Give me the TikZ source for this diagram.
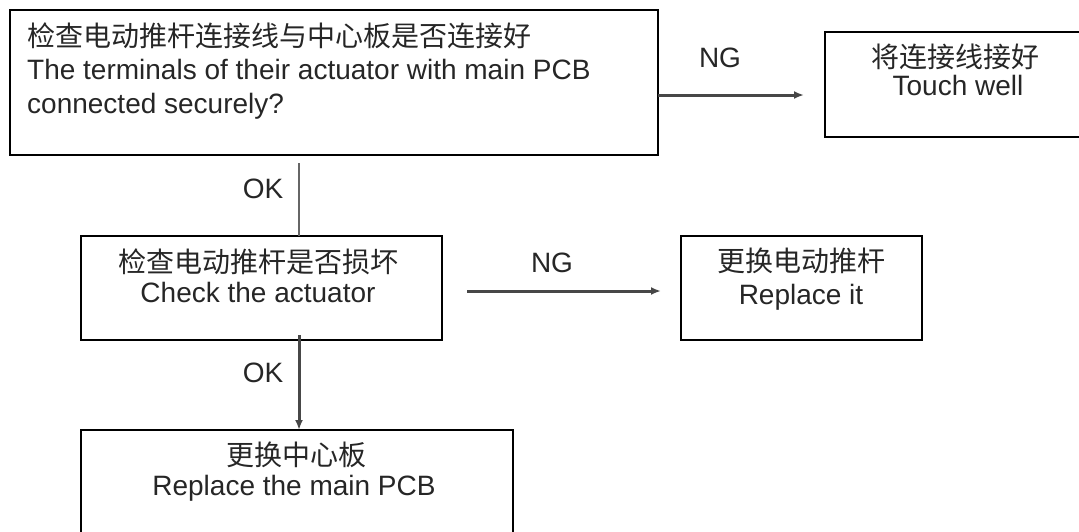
\documentclass[tikz,border=0pt]{standalone}
\usepackage{fontspec}
\setmainfont{Liberation Sans}
\newfontfamily\cjk{Noto Sans CJK SC}
\usetikzlibrary{arrows.meta}
\begin{document}
\begin{tikzpicture}[x=1pt,y=-1pt,
  box/.style={draw=black, line width=2.2pt, rectangle, inner sep=0pt},
  lat/.style={inner sep=0pt, text=black!85, font=\fontsize{28}{32}\selectfont},
  zh/.style={inner sep=0pt, text=black!85, font=\cjk\fontsize{28}{32}\selectfont},
  conn/.style={draw=black!72, line width=3pt, -{Latex[length=10pt,width=8pt]}},
  thinconn/.style={draw=black!60, line width=1.4pt}]
\useasboundingbox (0,0) rectangle (1079,531);

% boxes
\node[box, minimum width=648, minimum height=145] (b1) at (334,82.5) {};
\node[box, minimum width=260, minimum height=105] (b2) at (955,84.5) {};
\node[box, minimum width=361, minimum height=104] (b3) at (261.5,288) {};
\node[box, minimum width=241, minimum height=104] (b4) at (801.5,288) {};
\node[box, minimum width=432, minimum height=110] (b5) at (297,485) {};

% texts
\node[zh, anchor=base west] (t1a) at (27,46) {检查电动推杆连接线与中心板是否连接好};
\node[lat, anchor=base west] (t1b) at (27,79) {The terminals of their actuator with main PCB};
\node[lat, anchor=base west] (t1c) at (27,113) {connected securely?};

\node[zh, anchor=base] (t2a) at (955,67) {将连接线接好};
\node[lat, anchor=base] (t2b) at (958,95) {Touch well};

\node[zh, anchor=base] (t3a) at (258,272) {检查电动推杆是否损坏};
\node[lat, anchor=base] (t3b) at (258,302) {Check the actuator};

\node[zh, anchor=base] (t4a) at (801,271) {更换电动推杆};
\node[lat, anchor=base] (t4b) at (801,304) {Replace it};

\node[zh, anchor=base] (t5a) at (296,465) {更换中心板};
\node[lat, anchor=base] (t5b) at (294,495) {Replace the main PCB};

% labels
\node[lat, anchor=base] (ng1) at (720,67) {NG};
\node[lat, anchor=base] (ng2) at (552,272) {NG};
\node[lat, anchor=base] (ok1) at (263,198) {OK};
\node[lat, anchor=base] (ok2) at (263,382) {OK};

% connector end points
\coordinate (a1s) at (658,95);
\coordinate (a1e) at (804,95);
\coordinate (v1s) at (299,163);
\coordinate (v1e) at (299,236);
\coordinate (a2s) at (467,291);
\coordinate (a2e) at (661,291);
\coordinate (v2s) at (299,335);
\coordinate (v2e) at (299,430);

\draw[conn] (a1s) -- (a1e);
\draw[thinconn] (v1s) -- (v1e);
\draw[conn] (a2s) -- (a2e);
\draw[conn] (v2s) -- (v2e);
\end{tikzpicture}
\end{document}
